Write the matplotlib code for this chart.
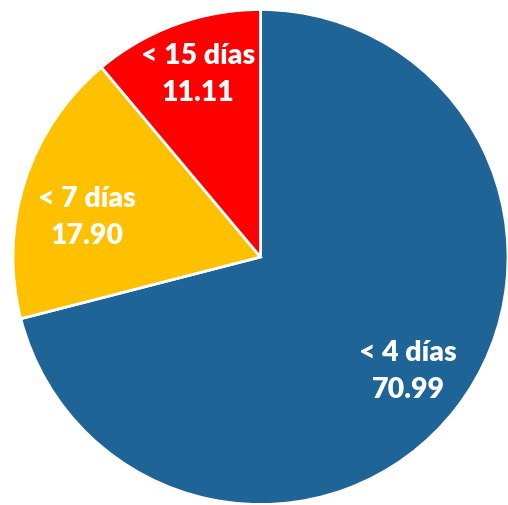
import numpy as np
import matplotlib
matplotlib.use("Agg")
import matplotlib.pyplot as plt

categories = ["< 4 días", "< 7 días", "< 15 días"]
values = [70.99, 17.90, 11.11]
colors = ["#1F6496", "#FFC000", "#FF0000"]

# label placement: radial distance and small angular nudge per slice
label_dist = [0.755, 0.72, 0.78]
label_nudge = [0.0, 5.0, -1.0]

fig = plt.figure(figsize=(5.08, 5.05), dpi=100)
ax = fig.add_axes([0, 0, 1, 1])

wedges, _ = ax.pie(values, colors=colors, startangle=90, counterclock=False,
                   radius=1.0, wedgeprops=dict(edgecolor="white", linewidth=2))

for w, cat, val, d, nud in zip(wedges, categories, values, label_dist, label_nudge):
    mid = np.deg2rad((w.theta1 + w.theta2) / 2 + nud)
    ax.text(d * np.cos(mid), d * np.sin(mid), f"{cat}\n{val:.2f}",
            ha="center", va="center", color="white", fontsize=20.5,
            fontweight="heavy", family="Lato", linespacing=1.55)

ax.set_xlim(-1.0525, 1.0)
ax.set_ylim(-1.002, 1.0384)
ax.set_aspect("equal")
ax.axis("off")

fig.savefig("out.png", dpi=100)
